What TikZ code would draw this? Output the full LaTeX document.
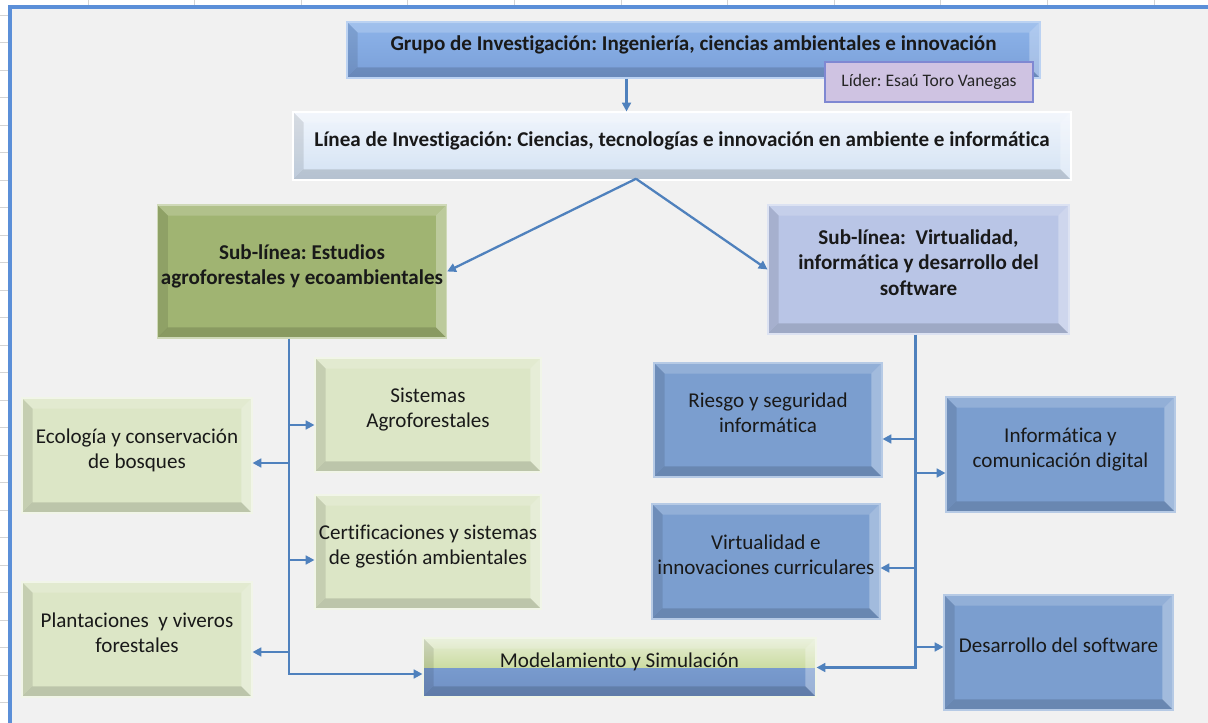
\documentclass[tikz,border=0pt]{standalone}
\usepackage{fontspec}
\setmainfont[Ligatures=NoCommon]{Carlito}
\frenchspacing
\usetikzlibrary{arrows.meta, calc}

\definecolor{pagegray}{HTML}{F1F1F1}
\definecolor{gridgray}{HTML}{D4D4D4}
\definecolor{frameblue}{HTML}{5B8FD8}
\definecolor{linkblue}{HTML}{4F81BD}
\definecolor{grupotop}{HTML}{8DB4EA}
\definecolor{grupobot}{HTML}{7A9FD8}
\definecolor{lineatop}{HTML}{F0F5FC}
\definecolor{lineabot}{HTML}{D3E2F3}
\definecolor{lilac}{HTML}{CFC3E2}
\definecolor{lilacline}{HTML}{7F88D2}
\definecolor{olive}{HTML}{A0B472}
\definecolor{lavblue}{HTML}{B9C5E6}
\definecolor{leafgreen}{HTML}{DCE6C6}
\definecolor{skyblue}{HTML}{7B9ECF}
\definecolor{modgreentop}{HTML}{E6EED6}
\definecolor{modgreenbot}{HTML}{CCDCA2}
\definecolor{modbluetop}{HTML}{82A5D8}
\definecolor{modbluebot}{HTML}{6F90C4}

% bevelled faces drawn inside every box
\newcommand{\bevelfaces}{%
  \path (path picture bounding box.north west) coordinate (bnw)
        (path picture bounding box.north east) coordinate (bne)
        (path picture bounding box.south west) coordinate (bsw)
        (path picture bounding box.south east) coordinate (bse);
  \fill[white, opacity=.18] (bnw) -- (bne) -- ([shift={(-6pt,-6pt)}]bne) -- ([shift={(6pt,-6pt)}]bnw) -- cycle;
  \fill[white, opacity=.3] (bne) -- (bse) -- ([shift={(-6pt,6pt)}]bse) -- ([shift={(-6pt,-6pt)}]bne) -- cycle;
  \fill[black, opacity=.14] (bsw) -- (bse) -- ([shift={(-6pt,6pt)}]bse) -- ([shift={(6pt,6pt)}]bsw) -- cycle;
  \fill[black, opacity=.1] (bnw) -- (bsw) -- ([shift={(6pt,6pt)}]bsw) -- ([shift={(6pt,-6pt)}]bnw) -- cycle;
}

\begin{document}
\begin{tikzpicture}[
    x=0.02cm, y=-0.02cm,
    box/.style={rectangle, align=center, inner sep=2pt, line width=0.6pt,
      font=\fontsize{12}{14.4}\selectfont, text=black!90,
      execute at end node={\rule[-8pt]{0pt}{0pt}},
      path picture={\bevelfaces}},
    dims/.style 2 args={minimum width=#1*0.02cm, minimum height=#2*0.02cm},
    title/.style={font=\fontsize{12}{14.4}\selectfont\bfseries},
    greenbox/.style={box, fill=leafgreen, draw=leafgreen!40!white},
    bluebox/.style={box, fill=skyblue, draw=skyblue!55!white},
    line/.style={draw=linkblue, line width=1.3pt, -{Triangle[length=5pt, width=5pt]}},
    trunk/.style={line, line width=1.7pt}
]

% Page
\useasboundingbox (0,0) rectangle (1208,723);
\fill[white] (0,0) rectangle (1208,723);
\fill[pagegray] (10,7) rectangle (1208,723);
\foreach \gx in {88,194.6,...,1160} \draw[gridgray, line width=0.5pt] (\gx,0) -- (\gx,7);
\foreach \gy in {15,42.5,...,723} \draw[gridgray, line width=0.5pt] (0,\gy) -- (10,\gy);
\draw[frameblue, line width=2.2pt] (10,723) -- (10,7) -- (1208,7);

% Nodes
\node[box, title, dims={693}{56}, top color=grupotop, bottom color=grupobot, draw=grupotop!60!white] (grupo) at (693.5,50)
  {Grupo de Investigación: Ingeniería, ciencias ambientales e innovación};
\node[rectangle, dims={208}{40}, fill=lilac, draw=lilacline, line width=1pt, inner sep=2pt,
  font=\fontsize{10}{12}\selectfont, text=black!85] (lider) at (929,82) {Líder: Esaú Toro Vanegas};

\node[box, title, dims={778}{68}, top color=lineatop, bottom color=lineabot, draw=white] (linea) at (682,146)
  {Línea de Investigación: Ciencias, tecnologías e innovación en ambiente e informática};

\node[box, title, dims={288}{133}, fill=olive, draw=olive!50!white] (subl) at (302,271.5)
  {Sub-línea: Estudios\\agroforestales y ecoambientales};
\node[box, title, dims={301}{129}, fill=lavblue, draw=lavblue!50!white] (subr) at (918.5,269.5)
  {Sub-línea: \ Virtualidad,\\informática y desarrollo del\\software};

\node[greenbox, dims={226}{114}] (sist) at (428,415) {Sistemas\\Agroforestales};
\node[greenbox, dims={226}{114}] (cert) at (428,552) {Certificaciones y sistemas\\de gestión ambientales};
\node[greenbox, dims={230}{115}] (eco) at (137,455.5) {Ecología y conservación\\de bosques};
\node[greenbox, dims={230}{115}] (plant) at (137,639.5) {Plantaciones \ y viveros\\forestales};

\node[box, dims={393}{59}, draw=leafgreen!40!white,
  path picture={
    \fill[top color=modbluetop, bottom color=modbluebot] (path picture bounding box.south west) rectangle (path picture bounding box.east);
    \fill[top color=modgreentop, bottom color=modgreenbot] (path picture bounding box.north west) rectangle (path picture bounding box.east);
    \bevelfaces}] (model) at (619.5,667.5) {Modelamiento y Simulación};

\node[bluebox, dims={228}{114}] (riesgo) at (768,420) {Riesgo y seguridad\\informática};
\node[bluebox, dims={229}{115}] (info) at (1060.5,454.5) {Informática y\\comunicación digital};
\node[bluebox, dims={228}{115}] (virt) at (766,561.5) {Virtualidad e\\innovaciones curriculares};
\node[bluebox, dims={229}{115}] (desa) at (1058.5,652.5) {Desarrollo del software};

% Edges
\coordinate (gout) at ([xshift=-1.34cm]grupo.south);
\draw[line] (gout) -- (gout |- linea.north);

\coordinate (apex) at ([xshift=-0.92cm, yshift=1pt]linea.south);
\draw[line] (apex) -- (subl.east);
\draw[line] (apex) -- (subr.west);

% left sub-line
\coordinate (lt) at ([xshift=-0.26cm]subl.south);
\coordinate (sistin) at ([yshift=-0.2cm]sist.west);
\coordinate (ecoin) at ([yshift=-0.15cm]eco.east);
\coordinate (certin) at ([yshift=-0.16cm]cert.west);
\coordinate (plantin) at ([yshift=-0.25cm]plant.east);
\draw[trunk] (lt) |- ([yshift=-0.13cm]model.west);
\draw[line] (lt |- sistin) -- (sistin);
\draw[line] (lt |- ecoin) -- (ecoin);
\draw[line] (lt |- certin) -- (certin);
\draw[line] (lt |- plantin) -- (plantin);

% right sub-line
\coordinate (rt) at ([xshift=-0.07cm]subr.south);
\coordinate (riesgoin) at ([yshift=-0.38cm]riesgo.east);
\coordinate (infoin) at ([yshift=-0.37cm]info.west);
\coordinate (virtin) at ([yshift=-0.13cm]virt.east);
\coordinate (desain) at ([yshift=0.11cm]desa.west);
\draw[trunk] (rt) |- (model.east);
\draw[line] (rt |- riesgoin) -- (riesgoin);
\draw[line] (rt |- infoin) -- (infoin);
\draw[line] (rt |- virtin) -- (virtin);
\draw[line] (rt |- desain) -- (desain);

\end{tikzpicture}
\end{document}
